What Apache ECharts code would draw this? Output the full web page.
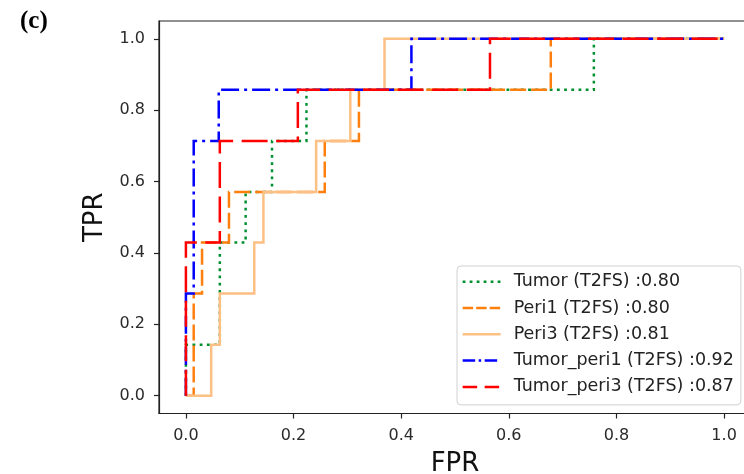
<!DOCTYPE html>
<html><head><meta charset="utf-8">
<script src="https://cdn.jsdelivr.net/npm/echarts@6/dist/echarts.min.js"></script>
<style>html,body{margin:0;padding:0;background:#fff}#c{width:744px;height:474px}</style>
</head><body><div id="c"></div>
<script>
const panelLabel = '(c)';
const xAxisName = 'FPR';
const yAxisName = 'TPR';
const xTicks = [0, 0.2, 0.4, 0.6, 0.8, 1.0];
const yTicks = [0, 0.2, 0.4, 0.6, 0.8, 1.0];

const seriesNames = ['Tumor (T2FS) :0.80', 'Peri1 (T2FS) :0.80', 'Peri3 (T2FS) :0.81', 'Tumor_peri1 (T2FS) :0.92', 'Tumor_peri3 (T2FS) :0.87'];

const tumorFPR = [0, 0, 0.063, 0.063, 0.111, 0.111, 0.160, 0.160, 0.224, 0.224, 0.758, 0.758, 1.0];
const tumorTPR = [0, 0.143, 0.143, 0.429, 0.429, 0.571, 0.571, 0.714, 0.714, 0.857, 0.857, 1.0, 1.0];

const peri1FPR = [0, 0.0145, 0.0145, 0.030, 0.030, 0.080, 0.080, 0.258, 0.258, 0.3215, 0.3215, 0.678, 0.678, 1.0];
const peri1TPR = [0, 0, 0.286, 0.286, 0.429, 0.429, 0.571, 0.571, 0.714, 0.714, 0.857, 0.857, 1.0, 1.0];

const peri3FPR = [0, 0.047, 0.047, 0.063, 0.063, 0.127, 0.127, 0.144, 0.144, 0.242, 0.242, 0.3055, 0.3055, 0.369, 0.369, 1.0];
const peri3TPR = [0, 0, 0.143, 0.143, 0.286, 0.286, 0.429, 0.429, 0.571, 0.571, 0.714, 0.714, 0.857, 0.857, 1.0, 1.0];

const tp1FPR = [0, 0, 0.0145, 0.0145, 0.061, 0.061, 0.419, 0.419, 1.0];
const tp1TPR = [0, 0.286, 0.286, 0.714, 0.714, 0.857, 0.857, 1.0, 1.0];

const tp3FPR = [0, 0, 0.063, 0.063, 0.208, 0.208, 0.565, 0.565, 1.0];
const tp3TPR = [0, 0.429, 0.429, 0.714, 0.714, 0.857, 0.857, 1.0, 1.0];

const colors = ['#009030', '#ff7f0e', '#fcbf84', '#0000ff', '#ff0000'];
const plotDash = [[2.8, 4.4], [16, 5], 'solid', [18, 5, 3, 5], [26, 8.5]];
const legendDash = [[2.8, 4.2], [10.5, 3], 'solid', [12.5, 3.5, 2.5, 3.5], [14.5, 7.5]];

const pairs = [[tumorFPR, tumorTPR], [peri1FPR, peri1TPR], [peri3FPR, peri3TPR], [tp1FPR, tp1TPR], [tp3FPR, tp3TPR]];

const FONT = 'DejaVu Sans';
const chart = echarts.init(document.getElementById('c'), null, {renderer: 'canvas'});

const series = pairs.map((p, i) => ({
  name: seriesNames[i],
  type: 'line',
  symbol: 'none',
  data: p[0].map((x, j) => [x, p[1][j]]),
  lineStyle: {color: colors[i], width: 2.5, type: plotDash[i], cap: 'butt', join: 'miter'},
  itemStyle: {color: colors[i]},
  z: 2 + i,
  silent: true
}));

const axisCommon = {
  type: 'value',
  min: -0.05, max: 1.05,
  splitLine: {show: false},
  axisLine: {show: true, onZero: false, lineStyle: {color: '#222', width: 1.2}},
  axisTick: {show: true, inside: false, length: 5, lineStyle: {color: '#222', width: 1.2}},
  axisLabel: {color: '#2a2a2a', fontFamily: FONT, fontSize: 16, margin: 14, formatter: v => v.toFixed(1)},
  nameLocation: 'middle',
  nameTextStyle: {color: '#111', fontFamily: FONT, fontSize: 26}
};

chart.setOption({
  animation: false,
  backgroundColor: '#fff',
  title: {text: panelLabel, left: 15, top: 4, textStyle: {fontFamily: 'Liberation Serif', fontWeight: 'bold', fontSize: 25, color: '#000'}},
  grid: {left: 159, width: 592, top: 21, height: 392.5, show: true, borderColor: '#222', borderWidth: 1.2, containLabel: false, outerBoundsMode: 'none'},
  xAxis: Object.assign({}, axisCommon, {
    name: xAxisName, nameGap: 38,
    axisTick: Object.assign({}, axisCommon.axisTick, {customValues: xTicks}),
    axisLabel: Object.assign({}, axisCommon.axisLabel, {customValues: xTicks})
  }),
  yAxis: Object.assign({}, axisCommon, {
    name: yAxisName, nameGap: 51,
    axisTick: Object.assign({}, axisCommon.axisTick, {customValues: yTicks}),
    axisLabel: Object.assign({}, axisCommon.axisLabel, {customValues: yTicks})
  }),
  legend: {
    orient: 'vertical',
    left: 457, top: 266,
    padding: [5.7, 7, 8, 4.4],
    itemGap: 6.3,
    itemWidth: 38, itemHeight: 14,
    backgroundColor: 'rgba(255,255,255,0.85)',
    borderColor: '#d0d0d0', borderWidth: 1, borderRadius: 4,
    textStyle: {fontFamily: FONT, fontSize: 17.5, color: '#222', lineHeight: 20, padding: [0, 0, 0, 8]},
    selectedMode: false,
    data: seriesNames.map((n, i) => ({
      name: n,
      itemStyle: {color: 'rgba(0,0,0,0)', borderColor: 'rgba(0,0,0,0)', borderWidth: 0, opacity: 0},
      lineStyle: {color: colors[i], width: 2.5, type: legendDash[i], cap: 'butt', opacity: 1}
    }))
  },
  series: series
});
</script>
</body></html>
